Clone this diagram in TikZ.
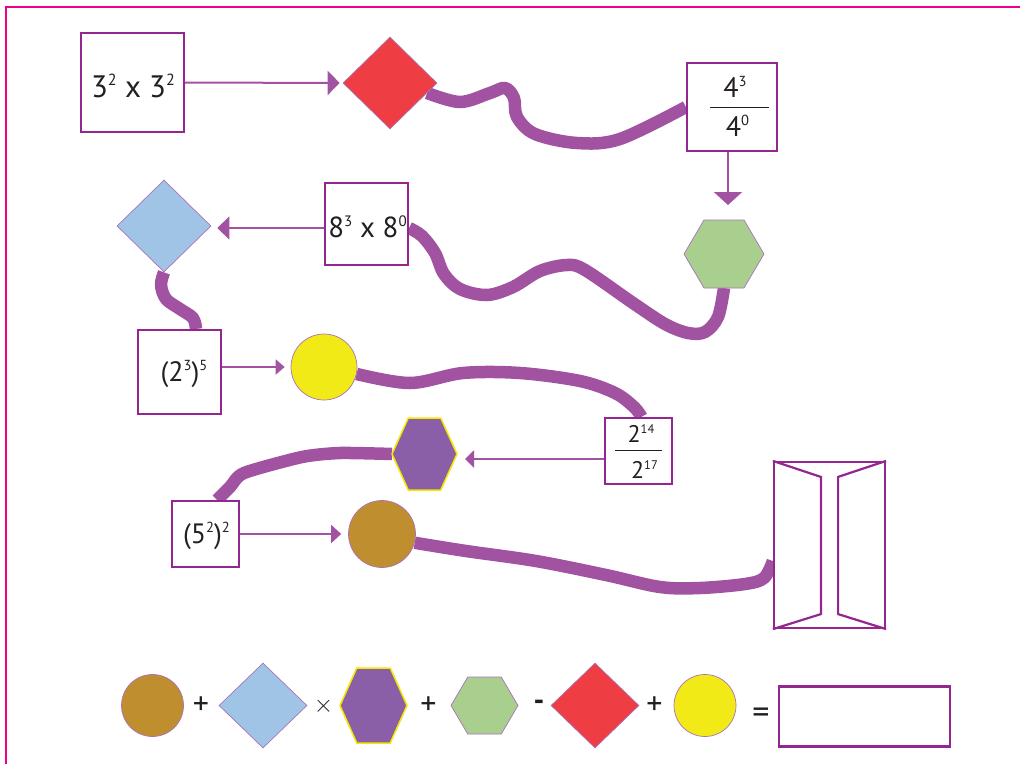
\documentclass[tikz,border=0pt]{standalone}
\usepackage{fontspec}
\setmainfont{PT Sans}
\usetikzlibrary{arrows.meta,shapes.geometric,calc}
\definecolor{frm}{HTML}{EC008C}
\definecolor{boxc}{HTML}{93278F}
\definecolor{pipec}{HTML}{A152A1}
\definecolor{shapeline}{HTML}{A972B8}
\definecolor{redf}{HTML}{EE3D43}
\definecolor{bluef}{HTML}{A0C4E6}
\definecolor{greenf}{HTML}{A9CF8F}
\definecolor{purplef}{HTML}{8A5FA8}
\definecolor{yellowf}{HTML}{F2EA17}
\definecolor{brownf}{HTML}{BF8E2E}
\definecolor{hexyel}{HTML}{F7E600}
\definecolor{textc}{HTML}{231F20}
\newcommand\ep[1]{\raisebox{0.36em}{\scalebox{0.52}{#1}}}
\newcommand\hexpoly[6]{%
  \coordinate (#1) at (#2,#3);
  \path[#6] ($(#1)+(-#4,0)$) -- ($(#1)+(-#4/2,-#5)$) -- ($(#1)+(#4/2,-#5)$) -- ($(#1)+(#4,0)$) -- ($(#1)+(#4/2,#5)$) -- ($(#1)+(-#4/2,#5)$) -- cycle;
  \coordinate (#1-W) at ($(#1)+(-#4,0)$);
  \coordinate (#1-E) at ($(#1)+(#4,0)$);
  \coordinate (#1-N) at ($(#1)+(0,-#5)$);
  \coordinate (#1-S) at ($(#1)+(0,#5)$);}
\pgfdeclarelayer{background}
\pgfsetlayers{background,main}
\begin{document}
\begin{tikzpicture}[x=1pt,y=-1pt,
  box/.style={draw=boxc, line width=2.2pt, fill=white, inner sep=0pt},
  pipe/.style={draw=pipec, line width=12.5pt, line cap=butt, line join=round},
  arr/.style={draw=pipec, line width=2pt},
  thinl/.style={draw=shapeline, line width=0.7pt},
  txt/.style={inner sep=0pt, anchor=base, text=textc},
  sym/.style={inner sep=0pt, text=textc},
  dia/.style={diamond, thinl, inner sep=0pt},
  circ/.style={circle, thinl, inner sep=0pt}]
\useasboundingbox (0,0) rectangle (1020,763);
\draw[frm, line width=2.5pt] (6,770) -- (6,7) -- (1025,7);

% ---- row 1
\node[box, minimum width=103pt, minimum height=99pt] (b1) at (132.5,82.5) {};
\node[txt, font=\fontsize{31}{36}\selectfont] (t1) at (133,97) {3\ep{2} x 3\ep{2}};
\node[dia, fill=redf, minimum width=94pt, minimum height=92pt] (red) at (390,83) {};
\node[box, minimum width=90pt, minimum height=88pt] (b4) at (732,107) {};
\node[txt, font=\fontsize{28}{32}\selectfont] (t4n) at (735,97) {4\ep{3}};
\node[txt, font=\fontsize{28}{32}\selectfont] (t4d) at (737.5,136) {4\ep{0}};
\draw[textc, line width=0.9pt] ($(b4.center)+(-22,0)$) -- ($(b4.center)+(37,0)$);
\hexpoly{green}{724}{254}{40}{34}{thinl, fill=greenf}

% ---- row 2
\node[box, minimum width=83pt, minimum height=82pt] (b8) at (366.5,224) {};
\node[txt, font=\fontsize{29}{34}\selectfont] (t8) at (367.5,237) {8\ep{3} x 8\ep{0}};
\node[dia, fill=bluef, minimum width=94pt, minimum height=92pt] (blue) at (164,226) {};

% ---- row 3
\node[box, minimum width=83pt, minimum height=84pt] (b23) at (179.5,372) {};
\node[txt, font=\fontsize{28}{32}\selectfont] (t23) at (184,381) {(2\ep{3})\ep{5}};
\node[circ, fill=yellowf, minimum size=66pt] (yellow) at (324,367) {};

% ---- row 4
\node[box, minimum width=67pt, minimum height=66pt] (b2f) at (638.5,451) {};
\node[txt, font=\fontsize{24}{28}\selectfont] (t2n) at (641,442) {2\ep{14}};
\node[txt, font=\fontsize{24}{28}\selectfont] (t2d) at (644.5,478) {2\ep{17}};
\draw[textc, line width=0.9pt] ($(b2f.center)+(-23.5,-1)$) -- ($(b2f.center)+(23.5,-1)$);
\hexpoly{purple}{424.5}{454}{32.5}{36}{draw=hexyel, line width=1.5pt, fill=purplef}

% ---- row 5
\node[box, minimum width=67pt, minimum height=66pt] (b52) at (205.5,534) {};
\node[txt, font=\fontsize{28}{32}\selectfont] (t52) at (206.5,543) {(5\ep{2})\ep{2}};
\node[circ, fill=brownf, minimum size=67pt] (brown) at (382,534) {};
\node[draw=boxc, line width=2.2pt, fill=white, minimum width=111pt, minimum height=166pt, inner sep=0pt] (door) at (829.5,545) {};
\draw[boxc, line width=2.2pt, line join=miter] (door.north west) -- ($(door.north west)+(48,16)$) -- ($(door.south west)+(48,-15)$) -- (door.south west);
\draw[boxc, line width=2.2pt, line join=miter] (door.north east) -- ($(door.north east)+(-48,16)$) -- ($(door.south east)+(-48,-15)$) -- (door.south east);

% ---- thin arrows
\draw[arr, -{Triangle[length=12pt,width=24pt]}, shorten >=3pt] (b1.east) -- (red.west);
\draw[arr, -{Triangle[length=13pt,width=28pt]}, shorten >=15pt] ([xshift=-4pt]b4.south) -- ([xshift=-4pt]b4.south |- green-N);
\draw[arr, -{Triangle[length=12pt,width=23pt]}, shorten >=6pt] ([yshift=-4pt]b8.west) -- ([yshift=-4pt]b8.west -| blue.east);
\draw[arr, -{Triangle[length=9pt,width=15pt]}, shorten >=6pt] (b23.east |- yellow.west) -- (yellow.west);
\draw[arr, -{Triangle[length=9pt,width=17pt]}, shorten >=8pt] ([yshift=-8pt]b2f.west) -- ([yshift=-8pt]b2f.west -| purple-E);
\draw[arr, -{Triangle[length=10pt,width=18pt]}, shorten >=7pt] (b52.east) -- (brown.west);

% ---- thick pipes
\begin{pgfonlayer}{background}
\draw[pipe] plot[smooth, tension=0.55] coordinates {(red.-15) (460,102) (490,93) (505,88) (514,98) (517,117) (535,134) (577,143) (620,139) (b4.west)};
\draw[pipe] plot[smooth, tension=0.55] coordinates {(green-S) (718,317) (705,332) (688,333) (665,324) (633,303) (585,270) (567,265) (540,271) (513,287) (487,295) (460,289) (444,274) (435,253) (422,236) ([yshift=-4pt]b8.east)};
\draw[pipe] plot[smooth, tension=0.55] coordinates {(blue.south) (161,285) (166,299) (180,309) (193,318) ([xshift=16.5pt]b23.north)};
\draw[pipe] plot[smooth, tension=0.55] coordinates {(yellow.-12) (410,383) (463,373) (520,373) (580,381) (615,393) (634,407) ([xshift=3pt]b2f.north)};
\draw[pipe] plot[smooth, tension=0.4] coordinates {(purple-W) (340,453) (302,457) (244,473) (230,487) ([xshift=11.5pt]b52.north)};
\draw[pipe] plot[smooth, tension=0.55] coordinates {(brown.-15) (466,551) (536,561) (606,575) (660,587) (700,588) (745,584) (764,578) ([yshift=-16pt]door.west)};
\end{pgfonlayer}

% ---- bottom equation
\node[circ, fill=brownf, minimum size=62pt] (brownB) at (152.5,705.5) {};
\node[sym, font=\fontsize{32}{34}\selectfont] (p1) at (201,706) {+};
\node[dia, fill=bluef, minimum width=88pt, minimum height=85pt] (blueB) at (263,705.5) {};
\node[sym, font=\fontsize{28}{30}\selectfont] (mul) at (323.5,706) {$\times$};
\hexpoly{purpleB}{373.5}{705.5}{33.5}{37.5}{draw=hexyel, line width=1.5pt, fill=purplef}
\node[sym, font=\fontsize{32}{34}\selectfont] (p2) at (428.5,706) {+};
\hexpoly{greenB}{484.5}{705.5}{33.5}{28.5}{thinl, fill=greenf}
\node[sym, font=\fontsize{30}{32}\selectfont\bfseries] (mn) at (539,705) {-};
\node[dia, fill=redf, minimum width=88pt, minimum height=85pt] (redB) at (595,705.5) {};
\node[sym, font=\fontsize{32}{34}\selectfont] (p3) at (654.5,706) {+};
\node[circ, fill=yellowf, minimum size=62pt] (yellowB) at (705,705.5) {};
\node[sym, font=\fontsize{34}{36}\selectfont] (eq) at (761,715.5) {=};
\node[draw=boxc, line width=2.8pt, minimum width=171pt, minimum height=60pt, inner sep=0pt] (ans) at (864.5,716.5) {};
\end{tikzpicture}
\end{document}
